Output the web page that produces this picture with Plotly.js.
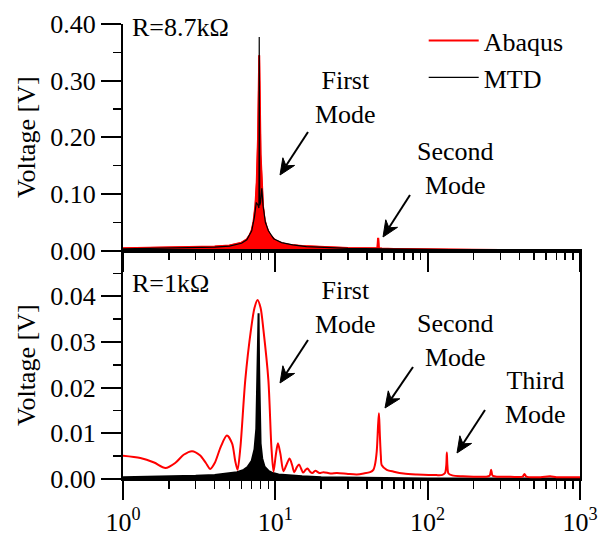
<!DOCTYPE html>
<html>
<head>
<meta charset="utf-8">
<script src="https://cdn.plot.ly/plotly-3.0.1.min.js"></script>
<style>
html,body{margin:0;padding:0;background:#fff;}
#chart{width:608px;height:542px;}
</style>
</head>
<body>
<div id="chart"></div>
<script>
// ---- Top panel: R = 8.7 kOhm ----
var freqTopAbaqus = [1, 1.5, 2, 3, 4, 5, 5.5, 6, 6.5, 6.8, 7.0, 7.2, 7.4, 7.55, 7.7, 7.8, 7.84, 7.88, 8.0, 8.15, 8.3, 8.5, 8.8, 9.2, 10, 11, 12.5, 15, 20, 25, 30, 40, 46.8, 47.2, 47.4, 47.8, 50, 60, 80, 100, 150, 200, 300, 500, 700, 1000];
var voltTopAbaqus = [0.004, 0.0045, 0.005, 0.006, 0.007, 0.009, 0.011, 0.014, 0.02, 0.028, 0.036, 0.052, 0.08, 0.12, 0.2, 0.3, 0.345, 0.3, 0.17, 0.11, 0.078, 0.055, 0.04, 0.028, 0.018, 0.013, 0.01, 0.008, 0.006, 0.005, 0.0045, 0.004, 0.004, 0.021, 0.021, 0.004, 0.0035, 0.003, 0.0025, 0.002, 0.0015, 0.0012, 0.001, 0.0008, 0.0006, 0.0005];

var freqTopMTD = [1, 2, 3, 4, 5, 6, 6.5, 7.0, 7.3, 7.5, 7.7, 7.8, 7.83, 7.84, 7.85, 7.9, 8.0, 8.15, 8.3, 8.6, 9.0, 9.75, 11, 13, 16, 20, 30, 50, 100, 200, 500, 1000];
var voltTopMTD = [0.003, 0.004, 0.005, 0.006, 0.008, 0.013, 0.019, 0.035, 0.06, 0.085, 0.08, 0.075, 0.2, 0.377, 0.2, 0.08, 0.085, 0.11, 0.08, 0.05, 0.035, 0.021, 0.014, 0.01, 0.007, 0.0055, 0.004, 0.003, 0.002, 0.0015, 0.001, 0.0008];

// ---- Bottom panel: R = 1 kOhm ----
var freqBotMTD = [1, 2, 3, 4, 5, 5.6, 6.2, 6.6, 7.0, 7.3, 7.5, 7.62, 7.7, 7.76, 7.82, 7.9, 8.0, 8.2, 8.5, 9.0, 9.5, 10.5, 12, 15, 20, 30, 50, 100, 200, 500, 1000];
var voltBotMTD = [0.0004, 0.0005, 0.0007, 0.0009, 0.0012, 0.0015, 0.002, 0.0027, 0.004, 0.0065, 0.011, 0.02, 0.03, 0.0363, 0.025, 0.012, 0.0078, 0.0045, 0.0027, 0.0018, 0.0014, 0.001, 0.0008, 0.0006, 0.0004, 0.0003, 0.0002, 0.0001, 0.0001, 0.0001, 0.0001];

var freqBotAbaqus = [1, 1.3, 1.6, 1.9, 2.2, 2.5, 2.84, 3.2, 3.5, 3.74, 4.0, 4.4, 4.81, 5.2, 5.45, 5.65, 5.9, 6.35, 6.92, 7.3, 7.64, 8.0, 8.35, 9.0, 9.42, 9.73, 10.05, 10.4, 10.8, 11.3, 11.8, 12.4, 12.9, 13.3, 13.8, 14.3, 14.8, 15.2, 15.8, 16.3, 16.9, 17.5, 18.3, 19.5, 20.7, 23, 25.4, 30, 34.3, 38, 41.9, 44, 45, 46.3, 47.3, 47.9, 48.5, 49.3, 50, 53.9, 60, 69.5, 85, 114, 125, 130, 132.5, 133.6, 134.8, 137, 145, 170, 200, 240, 255, 261, 267, 290, 350, 420, 432, 445, 550, 637, 700, 850, 1000];
var voltBotAbaqus = [0.0051, 0.0046, 0.0036, 0.0024, 0.0035, 0.0053, 0.0061, 0.0052, 0.0035, 0.0022, 0.0035, 0.0072, 0.0095, 0.0078, 0.004, 0.002, 0.007, 0.0217, 0.0327, 0.0375, 0.0392, 0.0375, 0.0327, 0.0217, 0.0071, 0.0016, 0.005, 0.0078, 0.0055, 0.0017, 0.003, 0.0045, 0.003, 0.0015, 0.0025, 0.0032, 0.0022, 0.0014, 0.002, 0.0023, 0.0016, 0.0013, 0.0018, 0.0013, 0.0015, 0.0012, 0.0013, 0.0011, 0.001, 0.0012, 0.0015, 0.002, 0.003, 0.006, 0.012, 0.0144, 0.01, 0.005, 0.003, 0.002, 0.0016, 0.0012, 0.001, 0.00085, 0.0009, 0.0013, 0.003, 0.0058, 0.003, 0.0012, 0.0008, 0.0006, 0.0005, 0.0005, 0.0007, 0.002, 0.0007, 0.0005, 0.0005, 0.0005, 0.0011, 0.0005, 0.0004, 0.0006, 0.0004, 0.0004, 0.0004];

var seriesNames = ['Abaqus', 'MTD'];
var xTickVals = [1, 10, 100, 1000];
var xTickText = ['10<sup>0</sup>', '10<sup>1</sup>', '10<sup>2</sup>', '10<sup>3</sup>'];
var yTopTicks = [0, 0.1, 0.2, 0.3, 0.4];
var yBotTicks = [0, 0.01, 0.02, 0.03, 0.04];

var FONT = 'Liberation Serif';

var xMinor = [];
for (var d = 1; d < 1000; d *= 10) for (var k = 2; k <= 9; k++) xMinor.push(k * d);
var yTopMinor = [0.05, 0.15, 0.25, 0.35];
var yBotMinor = [0.005, 0.015, 0.025, 0.035, 0.045];

var traces = [
  {x: freqTopAbaqus, y: voltTopAbaqus, name: seriesNames[0], type: 'scatter', mode: 'lines',
   line: {color: '#ff0000', width: 1.5}, fill: 'tozeroy', fillcolor: '#ff0000', xaxis: 'x', yaxis: 'y', showlegend: false},
  {x: freqTopAbaqus, y: voltTopAbaqus, name: seriesNames[0], type: 'scatter', mode: 'lines',
   line: {color: '#ff0000', width: 2}, xaxis: 'x', yaxis: 'y', showlegend: true},
  {x: freqTopMTD, y: voltTopMTD, name: seriesNames[1], type: 'scatter', mode: 'lines',
   line: {color: '#000000', width: 1.2}, xaxis: 'x', yaxis: 'y', showlegend: true},
  {x: freqBotMTD, y: voltBotMTD, name: seriesNames[1], type: 'scatter', mode: 'lines',
   line: {color: '#000000', width: 2}, fill: 'tozeroy', fillcolor: '#000000', xaxis: 'x2', yaxis: 'y2', showlegend: false},
  {x: freqBotAbaqus, y: voltBotAbaqus, name: seriesNames[0], type: 'scatter', mode: 'lines',
   line: {color: '#ff0000', width: 2, shape: 'spline', smoothing: 0.8}, xaxis: 'x2', yaxis: 'y2', showlegend: false}
];

// plot-area geometry (pixels) for placing paper-referenced decorations
var W = 608, H = 542, ML = 123, MR = 28, MT = 24, MB = 63;
var PW = W - ML - MR, PH = H - MT - MB;
function px(xp) { return (xp - ML) / PW; }
function py(yp) { return (H - MB - yp) / PH; }

// arrows: [tailX, tailY, tipX, tipY] in pixels
var arrowPix = [
  [308, 132, 280, 175],
  [410, 195, 383, 237],
  [308, 340, 280, 383],
  [413, 367, 385, 408],
  [485, 410, 457, 453]
];
var shapes = [];
arrowPix.forEach(function (a) {
  var dx = a[2] - a[0], dy = a[3] - a[1];
  var L = Math.sqrt(dx * dx + dy * dy), ux = dx / L, uy = dy / L, nx = -uy, ny = ux;
  var headL = 16, headW = 7, notch = 11;
  var bx = a[2] - headL * ux, by = a[3] - headL * uy;
  var mx = a[2] - notch * ux, my = a[3] - notch * uy;
  shapes.push({type: 'line', xref: 'paper', yref: 'paper', x0: px(a[0]), y0: py(a[1]), x1: px(mx), y1: py(my),
    line: {color: '#000', width: 2}});
  var p = 'M' + px(a[2]) + ',' + py(a[3]) +
    ' L' + px(bx + headW * nx) + ',' + py(by + headW * ny) +
    ' L' + px(mx) + ',' + py(my) +
    ' L' + px(bx - headW * nx) + ',' + py(by - headW * ny) + ' Z';
  shapes.push({type: 'path', xref: 'paper', yref: 'paper', path: p, fillcolor: '#000', line: {color: '#000', width: 1}});
});

var DOM_SPLIT = 0.502;
var axisCommon = {showline: true, linecolor: '#000', linewidth: 2, showgrid: false, zeroline: false,
  tickcolor: '#000', tickwidth: 2, ticks: 'outside', tickfont: {family: FONT, size: 26, color: '#000'}};

function textAnn(x, y, t, anchor, angle) {
  return {xref: 'paper', yref: 'paper', x: x, y: y, text: t, showarrow: false, textangle: angle || 0,
    xanchor: anchor || 'center', yanchor: 'middle', font: {family: FONT, size: 26, color: '#000'}};
}

var layout = {
  width: W, height: H,
  margin: {l: ML, r: MR, t: MT, b: MB},
  paper_bgcolor: '#fff', plot_bgcolor: 'rgba(0,0,0,0)',
  font: {family: FONT, size: 26, color: '#000'},
  showlegend: true,
  legend: {x: 0.658, y: 1.015, xanchor: 'left', yanchor: 'top', bgcolor: 'rgba(0,0,0,0)',
    font: {family: FONT, size: 26, color: '#000'}, itemwidth: 50, tracegroupgap: 0},
  xaxis: Object.assign({}, axisCommon, {type: 'log', range: [0, 3], anchor: 'y', domain: [0, 1],
    tickmode: 'array', tickvals: xTickVals, showticklabels: false, ticklen: 19,
    minor: {tickmode: 'array', tickvals: xMinor, ticks: 'outside', ticklen: 7, tickwidth: 1.5, tickcolor: '#000', showgrid: false}}),
  yaxis: Object.assign({}, axisCommon, {range: [0, 0.4], anchor: 'x', domain: [DOM_SPLIT, 1],
    tickmode: 'array', tickvals: yTopTicks, tickformat: '.2f', ticklen: 20,
    minor: {tickmode: 'array', tickvals: yTopMinor, ticks: 'outside', ticklen: 8, tickwidth: 1.5, tickcolor: '#000', showgrid: false}}),
  xaxis2: Object.assign({}, axisCommon, {type: 'log', range: [0, 3], anchor: 'y2', domain: [0, 1], mirror: true,
    tickmode: 'array', tickvals: xTickVals, ticktext: xTickText, ticklen: 19,
    minor: {tickmode: 'array', tickvals: xMinor, ticks: 'outside', ticklen: 8, tickwidth: 1.5, tickcolor: '#000', showgrid: false}}),
  yaxis2: Object.assign({}, axisCommon, {range: [0, 0.05], anchor: 'x2', domain: [0, DOM_SPLIT], mirror: true,
    tickmode: 'array', tickvals: yBotTicks, tickformat: '.2f', ticklen: 20,
    minor: {tickmode: 'array', tickvals: yBotMinor, ticks: 'outside', ticklen: 8, tickwidth: 1.5, tickcolor: '#000', showgrid: false}}),
  shapes: shapes,
  annotations: [
    textAnn(px(26), py(137), 'Voltage [V]', 'center', -90),
    textAnn(px(26), py(365), 'Voltage [V]', 'center', -90),
    textAnn(px(130), py(28), 'R=8.7kΩ', 'left'),
    textAnn(px(130), py(283), 'R=1kΩ', 'left'),
    textAnn(px(345), py(98), 'First<br>Mode'),
    textAnn(px(455), py(168), 'Second<br>Mode'),
    textAnn(px(345), py(307), 'First<br>Mode'),
    textAnn(px(455), py(340), 'Second<br>Mode'),
    textAnn(px(535), py(397), 'Third<br>Mode')
  ]
};

Plotly.newPlot('chart', traces, layout, {staticPlot: true, displayModeBar: false});
</script>
</body>
</html>
